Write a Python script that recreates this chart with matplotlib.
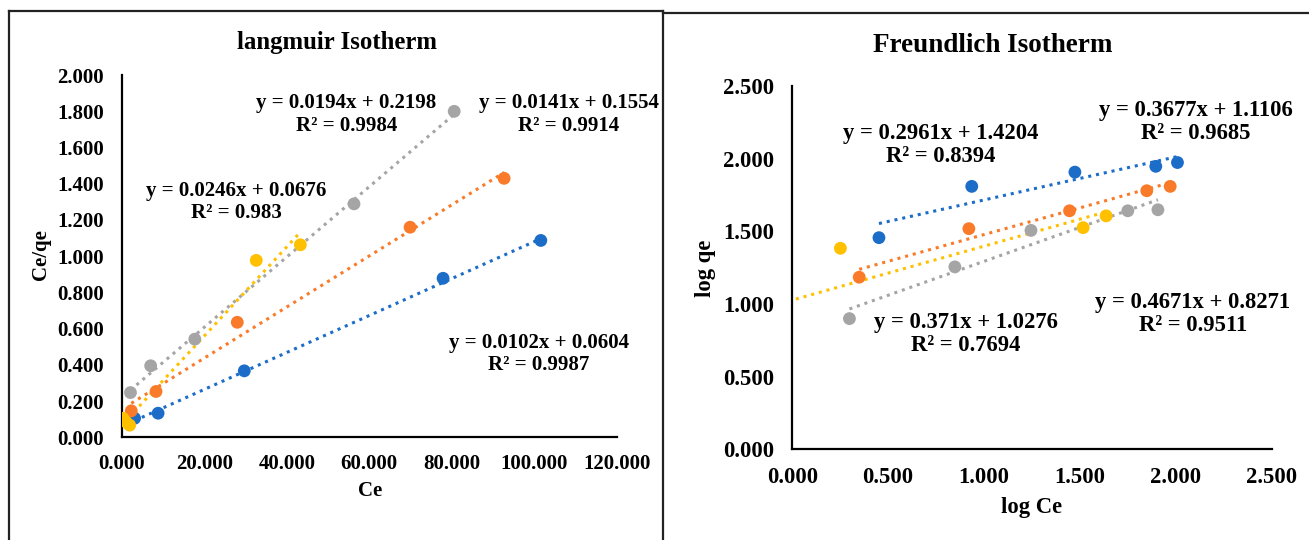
import numpy as np
import matplotlib
matplotlib.use('Agg')
import matplotlib.pyplot as plt
from matplotlib.lines import Line2D

plt.rcParams['font.family'] = ['Liberation Serif', 'DejaVu Serif']
plt.rcParams['font.weight'] = 'bold'

colors = ['#1C6DC8', '#F97B2A', '#A5A5A5', '#FFC000']

# Langmuir: Ce vs Ce/qe (blue, orange, gray, yellow)
lang_ce = [
    [3.1, 8.8, 29.7, 77.9, 101.6],
    [2.3, 8.3, 28.0, 69.9, 92.7],
    [2.1, 7.0, 17.7, 56.3, 80.6],
    [0.3, 1.0, 1.9, 32.6, 43.3],
]
lang_ceqe = [
    [0.105, 0.133, 0.367, 0.878, 1.087],
    [0.146, 0.253, 0.635, 1.160, 1.430],
    [0.247, 0.395, 0.542, 1.289, 1.800],
    [0.105, 0.085, 0.067, 0.977, 1.063],
]
lang_slope = [0.0102, 0.0141, 0.0194, 0.0246]
lang_icpt = [0.0604, 0.1554, 0.2198, 0.0676]
lang_labels = ['y = 0.0102x + 0.0604\nR² = 0.9987',
               'y = 0.0141x + 0.1554\nR² = 0.9914',
               'y = 0.0194x + 0.2198\nR² = 0.9984',
               'y = 0.0246x + 0.0676\nR² = 0.983']
lang_label_xy = [(101.2, 0.461), (108.4, 1.782), (54.4, 1.782), (27.7, 1.298)]

# Freundlich: log Ce vs log qe
fr_logce = [
    [0.452, 0.936, 1.474, 1.896, 2.009],
    [0.349, 0.921, 1.446, 1.849, 1.971],
    [0.298, 0.848, 1.245, 1.750, 1.907],
    [0.251, 1.517, 1.637],
]
fr_logqe = [
    [1.457, 1.810, 1.908, 1.948, 1.974],
    [1.185, 1.519, 1.642, 1.780, 1.810],
    [0.900, 1.256, 1.507, 1.642, 1.649],
    [1.384, 1.526, 1.607],
]
fr_slope = [0.2961, 0.3677, 0.4671, 0.371]
fr_icpt = [1.4204, 1.1106, 0.8271, 1.0276]
fr_trend_from = [None, None, None, -0.5]  # yellow fit includes points below log Ce = 0
fr_labels = ['y = 0.2961x + 1.4204\nR² = 0.8394',
             'y = 0.3677x + 1.1106\nR² = 0.9685',
             'y = 0.4671x + 0.8271\nR² = 0.9511',
             'y = 0.371x + 1.0276\nR² = 0.7694']
fr_label_xy = [(0.774, 2.094), (2.104, 2.251), (2.090, 0.933), (0.906, 0.796)]

W, H = 1309, 540
fig = plt.figure(figsize=(W / 100, H / 100), dpi=100)
fig.patch.set_facecolor('white')

fs1 = 15
fs2 = 16.3


def style(ax, xpad, ypad, fs):
    for s in ['top', 'right']:
        ax.spines[s].set_visible(False)
    for s in ['left', 'bottom']:
        ax.spines[s].set_linewidth(1.6)
        ax.spines[s].set_color('black')
    ax.tick_params(axis='x', length=0, pad=xpad, labelsize=fs)
    ax.tick_params(axis='y', length=0, pad=ypad, labelsize=fs)
    for lab in ax.get_xticklabels() + ax.get_yticklabels():
        lab.set_fontweight('bold')


def fpos(l, r, t, b):
    return [l / W, 1 - b / H, (r - l) / W, (b - t) / H]


# left: Langmuir
ax1 = fig.add_axes(fpos(121.8, 616.7, 75.1, 437.3))
for i in range(4):
    x = np.array(lang_ce[i])
    xs = np.array([x.min(), x.max()])
    ax1.plot(xs, lang_slope[i] * xs + lang_icpt[i], color=colors[i],
             linestyle=(0, (1, 1.6)), linewidth=2.2, zorder=2)
    ax1.scatter(x, lang_ceqe[i], s=85, color=colors[i], edgecolors='none', zorder=3)
    ax1.text(lang_label_xy[i][0], lang_label_xy[i][1], lang_labels[i], ha='center',
             va='center', fontsize=fs1, fontweight='bold', linespacing=1.15)
ax1.set_xlim(0, 120)
ax1.set_ylim(0, 2)
ax1.set_xticks(np.arange(0, 121, 20))
ax1.set_yticks(np.arange(0, 2.01, 0.2))
ax1.xaxis.set_major_formatter(plt.FormatStrFormatter('%.3f'))
ax1.yaxis.set_major_formatter(plt.FormatStrFormatter('%.3f'))
style(ax1, 12, 13, fs1)

# right: Freundlich
ax2 = fig.add_axes(fpos(792.3, 1271.6, 86.1, 449.4))
for i in range(4):
    x = np.array(fr_logce[i])
    x0 = x.min() if fr_trend_from[i] is None else fr_trend_from[i]
    xs = np.array([x0, x.max()])
    ax2.plot(xs, fr_slope[i] * xs + fr_icpt[i], color=colors[i],
             linestyle=(0, (1, 1.6)), linewidth=2.2, zorder=2)
    ax2.scatter(x, fr_logqe[i], s=85, color=colors[i], edgecolors='none', zorder=3)
    ax2.text(fr_label_xy[i][0], fr_label_xy[i][1], fr_labels[i], ha='center',
             va='center', fontsize=fs2, fontweight='bold', linespacing=1.15)
ax2.set_xlim(0, 2.5)
ax2.set_ylim(0, 2.5)
ax2.set_xticks(np.arange(0, 2.51, 0.5))
ax2.set_yticks(np.arange(0, 2.51, 0.5))
ax2.xaxis.set_major_formatter(plt.FormatStrFormatter('%.3f'))
ax2.yaxis.set_major_formatter(plt.FormatStrFormatter('%.3f'))
style(ax2, 13, 13, fs2)

# titles and axis labels
fig.text(336.7 / W, 1 - 43 / H, 'langmuir Isotherm', ha='center', va='center',
         fontsize=17.8, fontweight='bold')
fig.text(992.7 / W, 1 - 45.8 / H, 'Freundlich Isotherm', ha='center', va='center',
         fontsize=19.5, fontweight='bold')
fig.text(40.6 / W, 1 - 254.8 / H, 'Ce/qe', ha='center', va='center', rotation=90,
         fontsize=fs1, fontweight='bold')
fig.text(369.7 / W, 1 - 490.7 / H, 'Ce', ha='center', va='center',
         fontsize=fs1, fontweight='bold')
fig.text(706 / W, 1 - 268.6 / H, 'log qe', ha='center', va='center', rotation=90,
         fontsize=fs2, fontweight='bold')
fig.text(1031.7 / W, 1 - 508 / H, 'log Ce', ha='center', va='center',
         fontsize=fs2, fontweight='bold')

# panel borders
def fline(xa, ya, xb, yb):
    fig.add_artist(Line2D([xa / W, xb / W], [1 - ya / H, 1 - yb / H],
                          color='#222222', linewidth=1.6, transform=fig.transFigure))

fline(9, 11, 663, 11)
fline(9, 11, 9, 540)
fline(663, 11, 663, 540)
fline(663, 13, 1309, 13)

fig.savefig('out.png', dpi=100)
